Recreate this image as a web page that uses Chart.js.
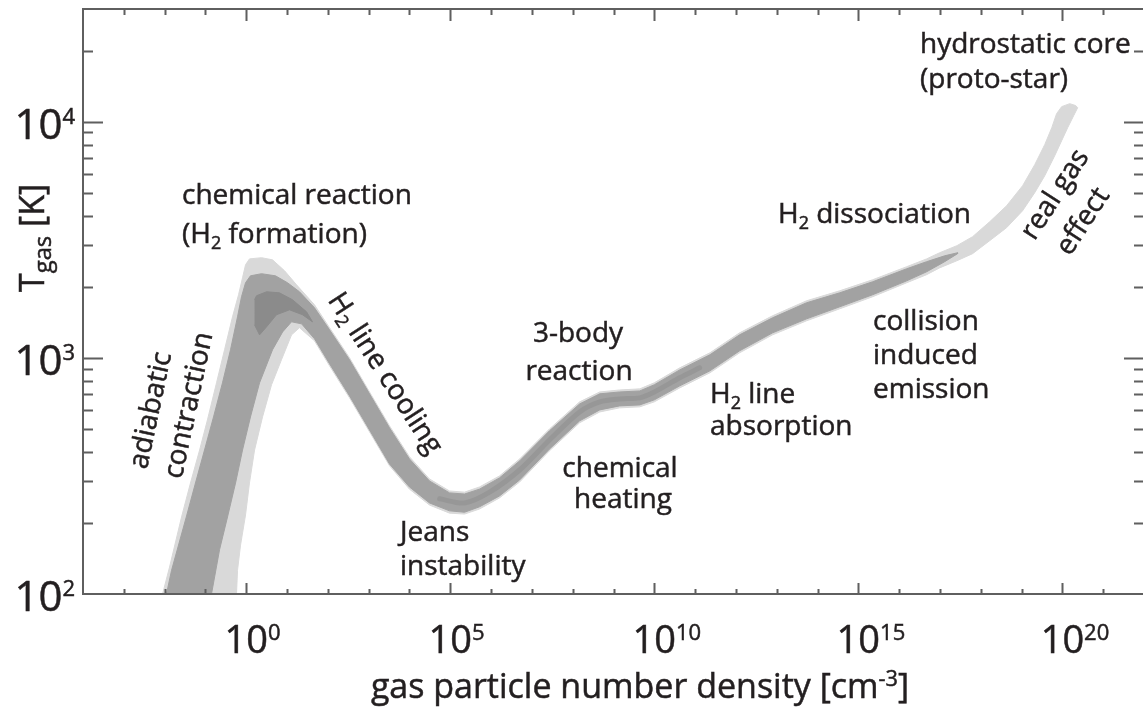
<!DOCTYPE html>
<html>
<head>
<meta charset="utf-8">
<script src="https://cdn.jsdelivr.net/npm/chart.js@4.4.1/dist/chart.umd.min.js"></script>
<style>
  html, body { margin: 0; padding: 0; background: #ffffff; overflow: hidden; }
  #wrap { position: absolute; left: 0; top: 0; width: 1146px; height: 708px; }
</style>
</head>
<body>
<div id="wrap"><canvas id="chart"></canvas></div>
<script>
// Thermal evolution of a collapsing primordial gas cloud:
// gas temperature [K] against particle number density [cm^-3].
// Each grey level is the envelope (upper / lower temperature) of the gas particles.

// outer (light grey) envelope
const outerTopN = [6.3e-3, 8.9e-3, 1.32e-2, 2.6e-2, 4.3e-2, 7.2e-2, 0.112, 0.187, 0.294, 0.461, 0.648, 0.811, 0.961, 1.20, 2.37, 4.41, 8.7, 17.1, 47, 110, 340, 1050, 3250, 1.0e4, 3.1e4, 9.6e4, 2.24e5, 5.2e5, 1.6e6, 5.0e6, 2.7e7, 1.48e8, 4.6e8, 1.41e9, 4.4e9, 1.0e10, 4.2e10, 2.3e11, 1.23e12, 7.9e12, 5.4e13, 3.5e14, 2.24e15, 1.53e16, 4.7e16, 9.8e16, 2.6e17, 6.3e17, 1.65e18, 4.3e18, 1.06e19, 2.1e19, 3.7e19, 5.5e19, 7.2e19, 9.6e19, 1.51e20, 2.12e20];
const outerTopT = [86, 100, 130, 212, 295, 407, 546, 784, 1082, 1492, 1850, 2183, 2478, 2624, 2655, 2600, 2337, 2038, 1678, 1341, 1000, 717, 515, 381, 307, 273, 270, 284, 316, 373, 500, 651, 717, 731, 739, 784, 907, 1050, 1276, 1507, 1745, 1923, 2141, 2432, 2624, 2786, 2985, 3258, 3767, 4406, 5358, 6573, 7998, 9435, 10810, 11580, 11920, 11700];
const outerBotN = [0.685, 0.578, 0.612, 0.725, 0.961, 1.20, 1.60, 2.51, 4.17, 7.3, 12.9, 20.2, 47, 110, 340, 1050, 3250, 1.0e4, 3.1e4, 9.6e4, 2.24e5, 5.2e5, 1.6e6, 5.0e6, 2.7e7, 1.48e8, 4.6e8, 1.41e9, 4.4e9, 1.0e10, 4.2e10, 2.3e11, 1.23e12, 7.9e12, 5.4e13, 3.5e14, 2.24e15, 1.53e16, 4.7e16, 9.8e16, 2.6e17, 6.3e17, 1.65e18, 4.3e18, 1.06e19, 2.1e19, 3.7e19, 6.5e19, 9.6e19, 1.35e20, 1.89e20, 2.37e20];
const outerBotT = [86, 100, 126, 161, 216, 295, 407, 562, 769, 981, 1251, 1341, 1181, 925, 677, 486, 349, 278, 238, 220, 218, 229, 255, 298, 404, 531, 590, 614, 620, 651, 746, 864, 1050, 1251, 1435, 1613, 1814, 2079, 2249, 2404, 2577, 2761, 3133, 3558, 4197, 5003, 5902, 7178, 8306, 9435, 10600, 11460];

// main (mid grey) envelope
const mainTopN = [8.9e-3, 1.11e-2, 1.48e-2, 3.4e-2, 5.7e-2, 9.5e-2, 0.158, 0.262, 0.412, 0.612, 0.767, 0.961, 1.27, 2.37, 5.2, 10.3, 20.2, 47, 110, 340, 1050, 3250, 1.0e4, 3.1e4, 9.6e4, 2.24e5, 5.2e5, 1.6e6, 5.0e6, 2.7e7, 1.48e8, 4.6e8, 1.41e9, 4.4e9, 1.0e10, 4.2e10, 2.3e11, 1.23e12, 7.9e12, 5.4e13, 3.5e14, 2.24e15, 1.53e16, 4.7e16, 1.3e17, 2.7e17];
const mainTopT = [86, 100, 126, 212, 295, 407, 562, 784, 1082, 1492, 1814, 2079, 2225, 2271, 2225, 2079, 1904, 1629, 1314, 981, 704, 505, 373, 301, 268, 265, 278, 310, 366, 491, 638, 704, 717, 724, 769, 889, 1030, 1251, 1477, 1711, 1885, 2099, 2383, 2553, 2704, 2786];
const mainBotN = [0.112, 0.141, 0.222, 0.348, 0.547, 0.811, 1.27, 2.12, 4.41, 7.8, 12.9, 22.7, 47, 110, 340, 1050, 3250, 1.0e4, 3.1e4, 9.6e4, 2.24e5, 5.2e5, 1.6e6, 5.0e6, 2.7e7, 1.48e8, 4.6e8, 1.41e9, 4.4e9, 1.0e10, 4.2e10, 2.3e11, 1.23e12, 7.9e12, 5.4e13, 3.5e14, 2.24e15, 1.53e16, 4.7e16, 1.3e17, 2.7e17];
const mainBotT = [86, 100, 154, 212, 295, 407, 562, 784, 1082, 1288, 1421, 1393, 1205, 944, 690, 495, 355, 284, 243, 225, 222, 234, 260, 304, 411, 541, 602, 626, 632, 664, 761, 881, 1071, 1276, 1463, 1645, 1850, 2119, 2314, 2553, 2761];

// densest (dark grey) region just after H2 formation
const peakTopN = [1.60, 1.79, 3.15, 6.5, 13.6, 30, 42];
const peakTopT = [1762, 1832, 1904, 1885, 1762, 1567, 1421];
const peakBotN = [1.60, 2.12, 3.15, 5.5, 11.5, 24.0, 42];
const peakBotT = [1380, 1251, 1353, 1522, 1597, 1522, 1421];

// darker ridge along the Jeans minimum and the 3-body plateau
const ridgeN = [5.5e4, 2.24e5, 9.2e5, 5.0e6, 2.7e7, 1.48e8, 4.6e8, 1.41e9, 4.4e9, 1.0e10, 4.2e10, 1.29e11];
const ridgeT = [253, 243, 270, 335, 449, 590, 651, 670, 677, 717, 823, 907];

// axis ranges and labelled decades
const densityRange = [1e-4, 1e22];
const tempRange = [100, 3e4];
const densityLabelExp = [0, 5, 10, 15, 20];
const tempLabelExp = [2, 3, 4];

const FONT = '"Open Sans", "Noto Sans", "DejaVu Sans", sans-serif';
const INK = '#231f20';
const AXIS = '#5f5f5f';

const toPoints = (ns, ts) => ns.map((n, i) => ({ x: n, y: ts[i] }));
const closedOutline = (topN, topT, botN, botT) =>
  toPoints(topN, topT).concat(toPoints(botN, botT).reverse());

function band(label, data, color, order) {
  return {
    label, data, order,
    showLine: true, fill: 'shape', tension: 0,
    backgroundColor: color, borderColor: color, borderWidth: 1,
    pointRadius: 0, pointHoverRadius: 0
  };
}

// text with sub/superscript runs, optionally rotated (degrees)
function drawRich(ctx, parts, x, y, size, align, angle, subScale) {
  ctx.save();
  ctx.translate(x, y);
  if (angle) ctx.rotate(angle * Math.PI / 180);
  ctx.textBaseline = 'alphabetic';
  ctx.textAlign = 'left';
  ctx.lineWidth = 0.5;
  ctx.strokeStyle = INK;
  const segs = parts.map(p => (typeof p === 'string' ? { t: p } : p));
  let total = 0;
  for (const s of segs) {
    s.fs = (s.sub || s.sup) ? size * (subScale || 0.64) : size;
    ctx.font = s.fs + 'px ' + FONT;
    s.w = ctx.measureText(s.t).width;
    total += s.w;
  }
  let cx = align === 'center' ? -total / 2 : (align === 'right' ? -total : 0);
  for (const s of segs) {
    ctx.font = s.fs + 'px ' + FONT;
    const dy = s.sub ? size * 0.2 : (s.sup ? -size * 0.36 : 0);
    ctx.fillText(s.t, cx, dy);
    ctx.strokeText(s.t, cx, dy);
    cx += s.w;
  }
  ctx.restore();
}

const H2 = [{ t: 'H' }, { t: '2', sub: true }];
const notes = [
  { parts: ['chemical reaction'], x: 182, y: 204 },
  { parts: ['(', ...H2, ' formation)'], x: 182, y: 243 },
  { parts: [...H2, ' line cooling'], x: 378, y: 378, align: 'center', angle: 57 },
  { parts: ['Jeans'], x: 400, y: 541 },
  { parts: ['instability'], x: 400, y: 575 },
  { parts: ['3-body'], x: 578, y: 342, align: 'center' },
  { parts: ['reaction'], x: 579, y: 380, align: 'center' },
  { parts: ['chemical'], x: 620, y: 477, align: 'center' },
  { parts: ['heating'], x: 623, y: 508, align: 'center' },
  { parts: [...H2, ' line'], x: 710, y: 403 },
  { parts: ['absorption'], x: 710, y: 435 },
  { parts: [...H2, ' dissociation'], x: 778, y: 223 },
  { parts: ['collision'], x: 873, y: 330 },
  { parts: ['induced'], x: 873, y: 364 },
  { parts: ['emission'], x: 873, y: 398 },
  { parts: ['hydrostatic core'], x: 920, y: 53 },
  { parts: ['(proto-star)'], x: 920, y: 88 },
  { parts: ['real gas'], x: 1062, y: 199, align: 'center', angle: -57 },
  { parts: ['effect'], x: 1090, y: 226, align: 'center', angle: -57 },
  { parts: ['adiabatic'], x: 159, y: 412, align: 'center', angle: -78 },
  { parts: ['contraction'], x: 197, y: 407, align: 'center', angle: -78 }
];

const framePlugin = {
  id: 'frame',
  afterDatasetsDraw(chart) {
    const { ctx, chartArea: a, scales: { x, y } } = chart;
    ctx.save();
    ctx.strokeStyle = AXIS;
    ctx.lineWidth = 2;
    ctx.strokeRect(a.left, a.top, a.right - a.left, a.bottom - a.top);

    // density ticks: one per decade, longer every fifth decade, on bottom and top
    ctx.beginPath();
    const e0 = Math.ceil(Math.log10(x.min) + 1e-9), e1 = Math.floor(Math.log10(x.max) - 1e-9);
    for (let e = e0; e <= e1; e++) {
      const px = Math.round(x.getPixelForValue(Math.pow(10, e))) + 0.5;
      const major = e % 5 === 0;
      ctx.moveTo(px, a.bottom); ctx.lineTo(px, a.bottom - (major ? 11 : 5));
      ctx.moveTo(px, a.top); ctx.lineTo(px, a.top + (major ? 12 : 6));
    }
    // temperature ticks: 1..9 x 10^k, on left and right
    const k0 = Math.floor(Math.log10(y.min)), k1 = Math.ceil(Math.log10(y.max));
    for (let k = k0; k <= k1; k++) {
      for (let m = 1; m <= 9; m++) {
        const v = m * Math.pow(10, k);
        if (v <= y.min || v >= y.max) continue;
        const py = Math.round(y.getPixelForValue(v)) + 0.5;
        const len = m === 1 ? 20 : 10;
        ctx.moveTo(a.left, py); ctx.lineTo(a.left + len, py);
        ctx.moveTo(a.right, py); ctx.lineTo(a.right - len, py);
      }
    }
    ctx.stroke();

    ctx.fillStyle = INK;
    ctx.strokeStyle = INK;
    ctx.lineWidth = 0.5;
    ctx.textBaseline = 'alphabetic';
    ctx.textAlign = 'left';
    const put = (t, px, py) => { ctx.fillText(t, px, py); ctx.strokeText(t, px, py); };
    // density labels: "10" centred on the tick, exponent raised after it
    for (const e of densityLabelExp) {
      const px = x.getPixelForValue(Math.pow(10, e));
      ctx.font = '38px ' + FONT;
      const w = ctx.measureText('10').width;
      put('10', px - w / 2, 653);
      ctx.font = '22px ' + FONT;
      put(String(e), px + w / 2, 640);
    }
    // temperature labels, right-aligned left of the axis
    for (const e of tempLabelExp) {
      const py = y.getPixelForValue(Math.pow(10, e));
      ctx.font = '22px ' + FONT;
      const we = ctx.measureText(String(e)).width;
      ctx.font = '42px ' + FONT;
      const wb = ctx.measureText('10').width;
      const right = 75;
      put('10', right - we - wb, py + 17);
      ctx.font = '22px ' + FONT;
      put(String(e), right - we, py + 2);
    }

    // axis titles
    drawRich(ctx, ['gas particle number density [cm', { t: '-3', sup: true }, ']'], 640, 698, 34, 'center', 0);
    drawRich(ctx, ['T', { t: 'gas', sub: true }, ' [K]'], 44, 292, 34, 'left', -90, 0.7);

    // process annotations
    for (const n of notes) drawRich(ctx, n.parts, n.x, n.y, 28, n.align || 'left', n.angle || 0);
    ctx.restore();
  }
};

new Chart(document.getElementById('chart'), {
  type: 'scatter',
  data: {
    datasets: [
      band('outer', closedOutline(outerTopN, outerTopT, outerBotN, outerBotT), '#d9d9d9', 4),
      band('main', closedOutline(mainTopN, mainTopT, mainBotN, mainBotT), '#a2a2a2', 3),
      {
        label: 'ridge', data: toPoints(ridgeN, ridgeT), order: 2,
        showLine: true, fill: false, tension: 0.3,
        borderColor: '#979797', borderWidth: 5, borderCapStyle: 'round', borderJoinStyle: 'round',
        pointRadius: 0, pointHoverRadius: 0
      },
      band('peak', closedOutline(peakTopN, peakTopT, peakBotN, peakBotT), '#8b8b8b', 1)
    ]
  },
  options: {
    responsive: true,
    maintainAspectRatio: false,
    animation: false,
    events: [],
    layout: { padding: { left: 83, right: 2, top: 9, bottom: 114 } },
    scales: {
      x: { type: 'logarithmic', min: densityRange[0], max: densityRange[1], display: false },
      y: { type: 'logarithmic', min: tempRange[0], max: tempRange[1], display: false }
    },
    plugins: { legend: { display: false }, tooltip: { enabled: false } }
  },
  plugins: [framePlugin]
});
</script>
</body>
</html>
